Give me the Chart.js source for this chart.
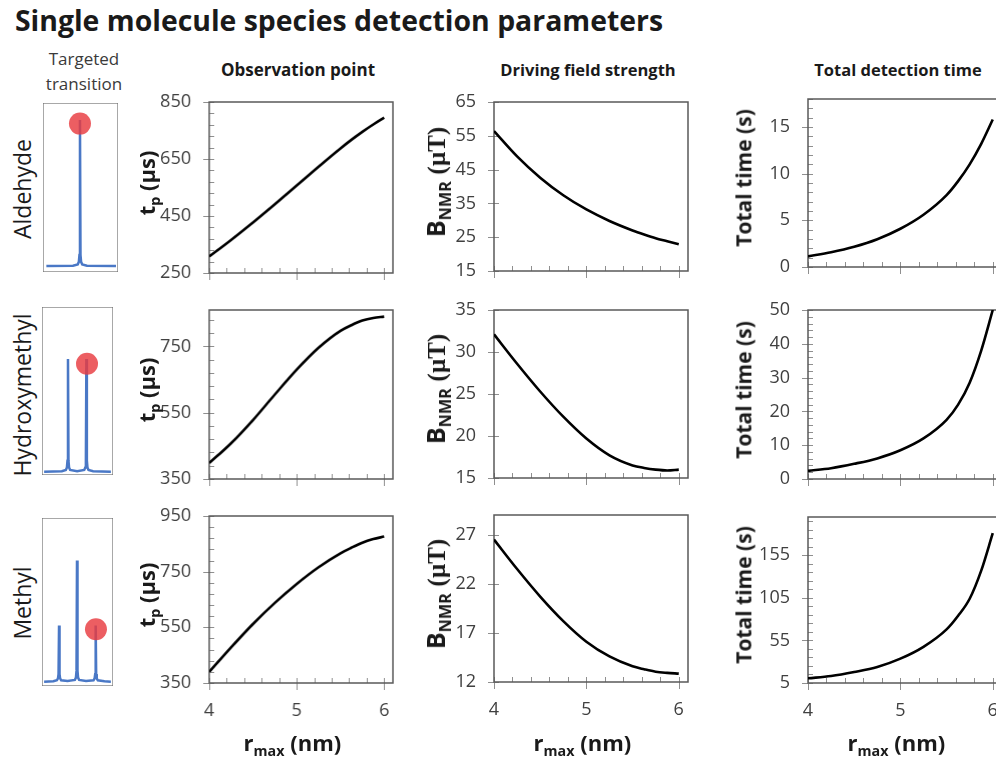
<!DOCTYPE html>
<html lang="en">
<head>
<meta charset="UTF-8">
<title>Single molecule species detection parameters</title>
<script src="https://cdn.jsdelivr.net/npm/chart.js@4.4.1/dist/chart.umd.min.js"></script>
<style>
  html, body { margin: 0; padding: 0; background: #fff; }
  body {
    width: 996px; height: 759px; position: relative; overflow: hidden;
    font-family: 'Open Sans', sans-serif; color: #1a1a1a;
  }
  canvas { position: absolute; }
  .txt { position: absolute; white-space: nowrap; transform: translate(-50%, -50%); line-height: 1.2; }
  .rot { transform: translate(-50%, -50%) rotate(-90deg); }
  .b { font-weight: 700; }
  .serif { font-family: 'Liberation Serif', serif; }
  sub { font-size: 0.65em; vertical-align: -0.35em; line-height: 0; }
</style>
</head>
<body>
<div class="txt b" style="left:339px; top:20px; font-size:28.4px;">Single molecule species detection parameters</div>
<div class="txt" style="left:84px; top:71px; font-size:17px; line-height:25px; text-align:center; color:#3a3a3a;">Targeted<br>transition</div>

<div class="txt b" style="left:298px; top:70px; font-size:17px;">Observation point</div>
<div class="txt b" style="left:588px; top:70px; font-size:16.5px;">Driving field strength</div>
<div class="txt b" style="left:898px; top:70px; font-size:16.5px;">Total detection time</div>

<div class="txt rot" style="left:23px; top:189px; font-size:23px;">Aldehyde</div>
<div class="txt rot" style="left:23px; top:395px; font-size:23px;">Hydroxymethyl</div>
<div class="txt rot" style="left:23px; top:603px; font-size:23px;">Methyl</div>

<script>
// r_max (nm), shared by every curve
const rMax = [4, 4.25, 4.5, 4.75, 5, 5.25, 5.5, 5.625, 5.75, 5.875, 6];
const rTicks = [4, 5, 6];

// observation point t_p (us)
const tpAldehyde      = [308, 366, 427, 491, 557, 623, 687, 717, 745, 771, 795];
const tpHydroxymethyl = [398, 458, 528, 605, 680, 746, 797, 814, 828, 836, 840];
const tpMethyl        = [390, 478, 562, 638, 706, 766, 816, 836, 854, 867, 876];

// driving field strength B_NMR (uT)
const bAldehyde      = [56.4, 48.9, 42.6, 37.4, 33.2, 29.8, 27.0, 25.8, 24.7, 23.8, 22.9];
const bHydroxymethyl = [32.1, 28.6, 25.3, 22.3, 19.7, 17.7, 16.5, 16.2, 16.0, 15.9, 16.0];
const bMethyl        = [26.5, 23.5, 20.7, 18.2, 16.1, 14.6, 13.6, 13.3, 13.05, 12.93, 12.85];

// total detection time (s)
const timeAldehyde      = [1.14, 1.58, 2.17, 2.98, 4.1, 5.6, 7.7, 9.2, 11.0, 13.2, 15.8];
const timeHydroxymethyl = [2.4, 3.2, 4.5, 6.1, 8.5, 12.0, 17.5, 22.0, 28.5, 38.0, 50];
const timeMethyl        = [10.5, 13.2, 17.9, 23.8, 33.6, 47.5, 68, 84, 104, 137, 181];

// labelled y ticks
const tpAldehydeTicks        = [250, 450, 650, 850];
const tpHydroxymethylTicks   = [350, 550, 750];
const tpMethylTicks          = [350, 550, 750, 950];
const bAldehydeTicks         = [15, 25, 35, 45, 55, 65];
const bHydroxymethylTicks    = [15, 20, 25, 30, 35];
const bMethylTicks           = [12, 17, 22, 27];
const timeAldehydeTicks      = [0, 5, 10, 15];
const timeHydroxymethylTicks = [0, 10, 20, 30, 40, 50];
const timeMethylTicks        = [5, 55, 105, 155];

// spectra of the targeted transitions (relative units)
const aldehydeSpecX = [0.045, 0.40, 0.463, 0.478, 0.486, 0.493, 0.500, 0.508, 0.523, 0.586, 0.973];
const aldehydeSpecY = [0.035, 0.037, 0.045, 0.06, 0.1, 0.90, 0.1, 0.06, 0.045, 0.037, 0.035];
const aldehydeTarget = [0.493, 0.878];

const hydroxymethylSpecX = [0.03, 0.28, 0.336, 0.351, 0.359, 0.366, 0.373, 0.381, 0.396, 0.495,
                            0.595, 0.61, 0.618, 0.625, 0.632, 0.64, 0.655, 0.72, 0.97];
const hydroxymethylSpecY = [0.02, 0.022, 0.03, 0.045, 0.085, 0.69, 0.085, 0.045, 0.03, 0.023,
                            0.03, 0.045, 0.085, 0.69, 0.085, 0.045, 0.03, 0.022, 0.02];
const hydroxymethylTarget = [0.634, 0.662];

const methylSpecX = [0.03, 0.16, 0.21, 0.225, 0.233, 0.24, 0.247, 0.255, 0.27, 0.36,
                     0.463, 0.478, 0.486, 0.493, 0.500, 0.508, 0.523, 0.62,
                     0.726, 0.741, 0.749, 0.756, 0.763, 0.771, 0.786, 0.88, 0.97];
const methylSpecY = [0.026, 0.028, 0.034, 0.045, 0.07, 0.36, 0.07, 0.045, 0.034, 0.03,
                     0.036, 0.05, 0.09, 0.747, 0.09, 0.05, 0.036, 0.03,
                     0.034, 0.045, 0.07, 0.36, 0.07, 0.045, 0.034, 0.028, 0.026];
const methylTarget = [0.76, 0.338];

Chart.defaults.font.family = "'Open Sans', sans-serif";

const pts = (xs, ys) => xs.map((x, i) => ({ x, y: ys[i] }));

// frame around the plot area plus Excel-like tick marks
const frameAndTicks = {
  id: 'frameAndTicks',
  beforeDatasetsDraw(chart, args, o) {
    const { ctx, chartArea: a } = chart;
    ctx.save();
    if (o.ticks) {
      const x = chart.scales.x, y = chart.scales.y;
      ctx.strokeStyle = '#8f8f8f';
      ctx.lineWidth = 1;
      ctx.beginPath();
      y.ticks.forEach(t => {
        const py = Math.round(y.getPixelForValue(t.value)) + 0.5;
        ctx.moveTo(a.left - 6, py); ctx.lineTo(a.left + 5, py);
      });
      if (o.yMinor) {
        const n = Math.floor((y.max - y.min) / o.yMinor + 1e-6);
        for (let i = 1; i <= n; i++) {
          const py = Math.round(y.getPixelForValue(y.min + i * o.yMinor)) + 0.5;
          ctx.moveTo(a.left, py); ctx.lineTo(a.left + 5, py);
        }
      }
      rTicks.forEach(v => {
        const px = Math.round(x.getPixelForValue(v)) + 0.5;
        ctx.moveTo(px, a.bottom - 5); ctx.lineTo(px, a.bottom + 7);
      });
      for (let i = 1; i < 10; i++) {
        const px = Math.round(x.getPixelForValue(4 + i * 0.2)) + 0.5;
        ctx.moveTo(px, a.bottom); ctx.lineTo(px, a.bottom - 5);
      }
      ctx.stroke();
    }
    ctx.strokeStyle = o.color || '#595959';
    ctx.lineWidth = o.width || 1.5;
    ctx.strokeRect(a.left, a.top, a.right - a.left, a.bottom - a.top);
    ctx.restore();
  }
};

function addCanvas(left, top, w, h) {
  const c = document.createElement('canvas');
  c.width = w; c.height = h;
  c.style.left = left + 'px'; c.style.top = top + 'px';
  c.style.width = w + 'px'; c.style.height = h + 'px';
  document.body.appendChild(c);
  return c;
}

function addText(html, x, y, size, rotate) {
  const d = document.createElement('div');
  d.className = 'txt b' + (rotate ? ' rot' : '');
  d.style.left = x + 'px'; d.style.top = y + 'px';
  d.style.fontSize = size + 'px';
  d.innerHTML = html;
  document.body.appendChild(d);
}

const X_MAX = 6.1;
const PAD_T = 14, PAD_R = 30, Y_W = 60;

function panel(p) {
  const bottomH = p.showX ? 45 : 14;
  const canvas = addCanvas(p.L - Y_W, p.T - PAD_T, p.R - p.L + Y_W + PAD_R, PAD_T + (p.B - p.T) + bottomH);
  new Chart(canvas, {
    type: 'line',
    data: {
      datasets: [{
        data: pts(rMax, p.values),
        borderColor: '#000',
        borderWidth: 2.6,
        pointRadius: 0,
        cubicInterpolationMode: 'monotone',
        fill: false
      }]
    },
    options: {
      responsive: false,
      animation: false,
      events: [],
      layout: { autoPadding: false, padding: { top: PAD_T, right: PAD_R, left: 0, bottom: 0 } },
      plugins: {
        legend: { display: false },
        tooltip: { enabled: false },
        frameAndTicks: { ticks: true, yMinor: p.yMinor }
      },
      scales: {
        x: {
          type: 'linear', min: 4, max: X_MAX,
          afterBuildTicks: s => { s.ticks = rTicks.map(v => ({ value: v })); },
          afterFit: s => { s.height = bottomH; },
          grid: { display: false, drawTicks: true, tickLength: 17 },
          border: { display: false },
          ticks: { display: p.showX, padding: 0, autoSkip: false, maxRotation: 0,
                   color: '#404040', font: { size: 18 } }
        },
        y: {
          type: 'linear', min: p.yMin, max: p.yMax,
          afterBuildTicks: s => { s.ticks = p.ticks.map(v => ({ value: v })); },
          afterFit: s => { s.width = Y_W; },
          grid: { display: false, drawTicks: true, tickLength: 18 },
          border: { display: false },
          ticks: { padding: 0, autoSkip: false, color: '#404040', font: { size: 18 } }
        }
      }
    },
    plugins: [frameAndTicks]
  });

  addText(p.title, p.titleX, (p.T + p.B) / 2 - 5, p.titleSize, true);
  if (p.showX) {
    const x5 = p.L + (p.R - p.L) / (X_MAX - 4);
    addText('r<sub>max</sub> (nm)', x5 - 4, 742, 22, false);
  }
}

function spectrum(box, xs, ys, target) {
  const canvas = addCanvas(box.L, box.T, box.R - box.L, box.B - box.T);
  new Chart(canvas, {
    type: 'line',
    data: {
      datasets: [{
        data: [{ x: target[0], y: target[1] }],
        showLine: false,
        pointRadius: 11,
        pointBackgroundColor: 'rgba(232, 58, 64, 0.82)',
        pointBorderWidth: 0
      }, {
        data: pts(xs, ys),
        borderColor: '#4a78c6',
        borderWidth: 2.5,
        pointRadius: 0,
        tension: 0
      }]
    },
    options: {
      responsive: false,
      animation: false,
      events: [],
      layout: { autoPadding: false, padding: 0 },
      plugins: {
        legend: { display: false },
        tooltip: { enabled: false },
        frameAndTicks: { ticks: false, color: '#6e6e6e', width: 1.2 }
      },
      scales: {
        x: { type: 'linear', min: 0, max: 1, display: false },
        y: { type: 'linear', min: 0, max: 1, display: false }
      }
    },
    plugins: [frameAndTicks]
  });
}

const tpTitle = 't<sub>p</sub> (µs)';
const bTitle = 'B<sub>NMR</sub> <span class="serif">(µT)</span>';
const timeTitle = 'Total time (s)';

const col1 = { L: 209, R: 392.5, titleX: 146, title: tpTitle, titleSize: 22 };
const col2 = { L: 494, R: 688, titleX: 436, title: bTitle, titleSize: 25 };
const col3 = { L: 808, R: 1002, titleX: 744, title: timeTitle, titleSize: 21 };

panel({ ...col1, T: 102, B: 273, values: tpAldehyde, yMin: 250, yMax: 850, ticks: tpAldehydeTicks, yMinor: 40 });
panel({ ...col2, T: 102, B: 271, values: bAldehyde, yMin: 15, yMax: 65, ticks: bAldehydeTicks });
panel({ ...col3, T: 99, B: 267, values: timeAldehyde, yMin: 0, yMax: 18, ticks: timeAldehydeTicks, yMinor: 1 });

panel({ ...col1, T: 310, B: 479, values: tpHydroxymethyl, yMin: 350, yMax: 860, ticks: tpHydroxymethylTicks, yMinor: 40 });
panel({ ...col2, T: 310, B: 478, values: bHydroxymethyl, yMin: 15, yMax: 35, ticks: bHydroxymethylTicks });
panel({ ...col3, T: 310, B: 479, values: timeHydroxymethyl, yMin: 0, yMax: 50, ticks: timeHydroxymethylTicks, yMinor: 2 });

panel({ ...col1, T: 516, B: 683, values: tpMethyl, yMin: 350, yMax: 950, ticks: tpMethylTicks, yMinor: 40, showX: true });
panel({ ...col2, T: 515, B: 682, values: bMethyl, yMin: 12, yMax: 29, ticks: bMethylTicks, showX: true });
panel({ ...col3, T: 517, B: 683, values: timeMethyl, yMin: 5, yMax: 200, ticks: timeMethylTicks, yMinor: 10, showX: true });

spectrum({ L: 43, R: 118, T: 103, B: 272 }, aldehydeSpecX, aldehydeSpecY, aldehydeTarget);
spectrum({ L: 42, R: 113, T: 307, B: 475 }, hydroxymethylSpecX, hydroxymethylSpecY, hydroxymethylTarget);
spectrum({ L: 42, R: 113, T: 518, B: 686 }, methylSpecX, methylSpecY, methylTarget);
</script>
</body>
</html>
